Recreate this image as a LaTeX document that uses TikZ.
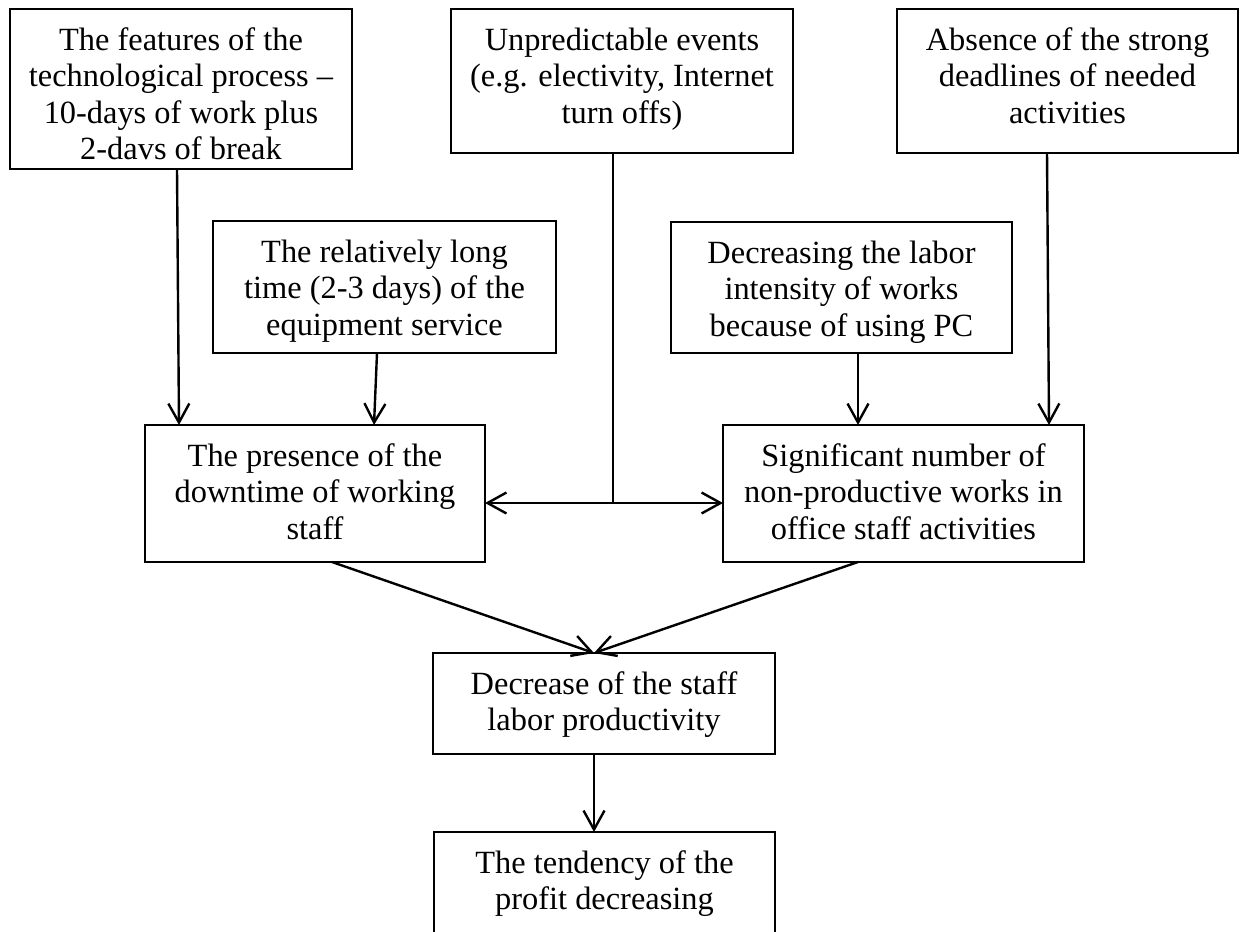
\documentclass[tikz,border=0pt]{standalone}
\usepackage{fontspec}
\setmainfont{Liberation Serif}
\usetikzlibrary{arrows.meta,calc}
\begin{document}
\begin{tikzpicture}[x=0.5pt,y=-0.5pt,
  box/.style={draw,line width=0.6pt,inner sep=0pt,outer sep=0pt},
  txt/.style={inner sep=0pt,outer sep=0pt,align=center,anchor=north,font=\fontsize{16.2}{18.3}\selectfont},
  arr/.style={line width=1.2pt,-{Straight Barb[length=9.5pt,width=10.5pt]}},
  dbl/.style={line width=1.2pt,{Straight Barb[length=9.5pt,width=10.5pt]}-{Straight Barb[length=9.5pt,width=10.5pt]}},
  thinline/.style={line width=0.6pt}]
\useasboundingbox (0,0) rectangle (1240,931);
% boxes
\node[box,minimum width=171pt,minimum height=80pt] (A) at (181,89) {};
\node[box,minimum width=171pt,minimum height=72pt] (B) at (622,81) {};
\node[box,minimum width=170.5pt,minimum height=72pt] (C) at (1067.5,81) {};
\node[box,minimum width=171.5pt,minimum height=66pt] (D) at (384.5,287) {};
\node[box,minimum width=170.5pt,minimum height=65.5pt] (E) at (841.5,287.5) {};
\node[box,minimum width=170pt,minimum height=68.5pt] (F) at (315,493.5) {};
\node[box,minimum width=180.5pt,minimum height=68.5pt] (G) at (903.5,493.5) {};
\node[box,minimum width=171pt,minimum height=50.5pt] (H) at (604,703.5) {};
\node[box,minimum width=170.5pt,minimum height=64pt] (I) at (604.5,896) {};
% texts
\node[txt] (tA) at ([yshift=-7.7pt]A.north) {\strut The features of the\\technological process –\\10-days of work plus\\2-davs of break};
\node[txt] (tB) at ([yshift=-7.7pt]B.north) {\strut Unpredictable events\\(e.g. electivity, Internet\\turn offs)};
\node[txt] (tC) at ([yshift=-7.7pt]C.north) {\strut Absence of the strong\\deadlines of needed\\activities};
\node[txt] (tD) at ([yshift=-7.7pt]D.north) {\strut The relatively long\\time (2-3 days) of the\\equipment service};
\node[txt] (tE) at ([yshift=-7.7pt]E.north) {\strut Decreasing the labor\\intensity of works\\because of using PC};
\node[txt] (tF) at ([yshift=-7.7pt]F.north) {\strut The presence of the\\downtime of working\\staff};
\node[txt] (tG) at ([yshift=-7.7pt]G.north) {\strut Significant number of\\non-productive works in\\office staff activities};
\node[txt] (tH) at ([yshift=-7.7pt]H.north) {\strut Decrease of the staff\\labor productivity};
\node[txt] (tI) at ([yshift=-7.7pt]I.north) {\strut The tendency of the\\profit decreasing};
% connectors
\draw[arr] ([xshift=-2pt]A.south) -- ([xshift=-68pt]F.north);
\draw[arr] ([xshift=-3.75pt]D.south) -- ([xshift=29.5pt]F.north);
\draw[arr] ([xshift=8.25pt]E.south) -- ([xshift=-22.75pt]G.north);
\draw[arr] ([xshift=-10.25pt]C.south) -- ([xshift=72.75pt]G.north);
\coordinate (J) at (613,503);
\draw[thinline] (B.south -| J) -- (J);
\draw[dbl] (J -| F.east) -- (J -| G.west);
\draw[arr] ([xshift=8.5pt]F.south) -- ([xshift=-5pt]H.north);
\draw[arr] ([xshift=-22.75pt]G.south) -- ([xshift=-5pt]H.north);
\draw[arr] ([xshift=-5pt]H.south) -- ([xshift=-5.25pt]I.north);
\end{tikzpicture}
\end{document}
